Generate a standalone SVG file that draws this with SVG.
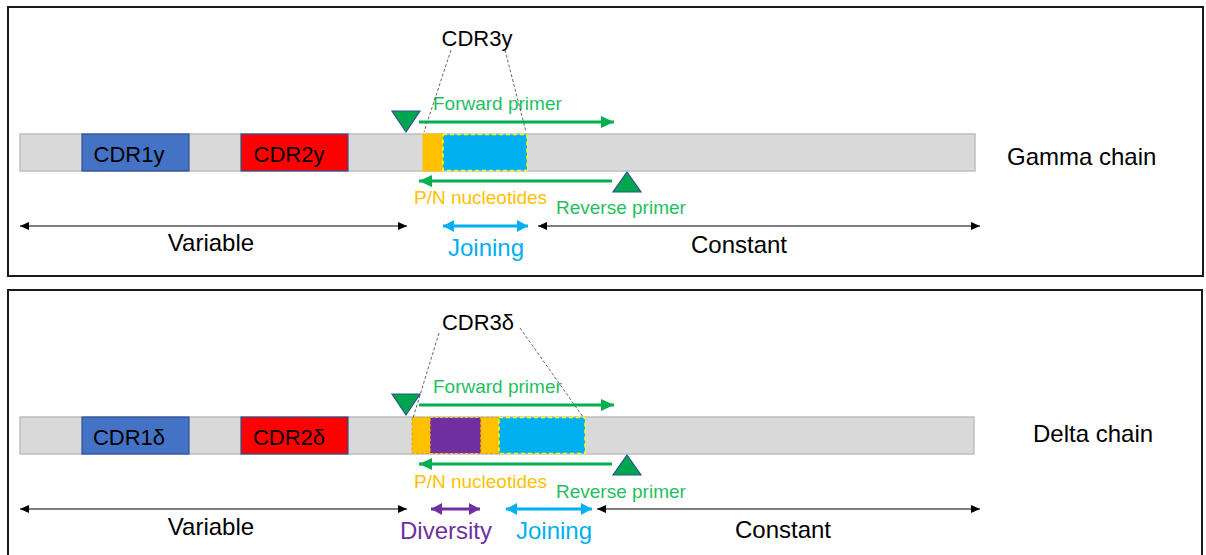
<svg xmlns="http://www.w3.org/2000/svg" width="1206" height="555" viewBox="0 0 1206 555">
<defs>
<style>
text{font-family:"Liberation Sans",Arial,sans-serif;}
.frame{fill:#fff;stroke:#1a1a1a;stroke-width:2;}
.bar{fill:#d9d9d9;stroke:#bfbfbf;stroke-width:1.5;}
.cdr1{fill:#4472c4;stroke:#2f528f;stroke-width:1.2;}
.cdr2{fill:#ff0000;stroke:#2f528f;stroke-width:1.2;}
.pn{fill:#ffc000;stroke:#ffc000;stroke-width:1;}
.pnd{fill:#ffc000;stroke:#e6a800;stroke-width:1;stroke-dasharray:3 2;}
.dv{fill:#7030a0;stroke:#ffc000;stroke-width:1.2;stroke-dasharray:3 2;}
.jn{fill:#00b0f0;stroke:#ffff00;stroke-width:1.5;stroke-dasharray:4 3;}
.tri{fill:#00a550;stroke:#2f528f;stroke-width:1.2;}
.dash{stroke:#404040;stroke-width:0.8;stroke-dasharray:3 2;fill:none;}
.blk{stroke:#000;stroke-width:1;fill:none;marker-start:url(#mk);marker-end:url(#mk);}
.cyn{stroke:#00b0f0;stroke-width:3;fill:none;marker-start:url(#mc);marker-end:url(#mc);}
.pur{stroke:#7030a0;stroke-width:3;fill:none;marker-start:url(#mp);marker-end:url(#mp);}
.grn{stroke:#00b050;stroke-width:3;fill:none;marker-end:url(#mg);}
.lbl{font-size:22px;fill:#000;}
.big{font-size:24px;fill:#000;}
.sm{font-size:19px;}
.g{fill:#1fbf5f;}
.o{fill:#ffc000;}
.c{fill:#00b0f0;}
.p{fill:#7030a0;}
</style>
<marker id="mk" markerUnits="userSpaceOnUse" markerWidth="10" markerHeight="8" refX="9" refY="4" orient="auto-start-reverse"><path d="M0,0 L9,4 L0,8 Z" fill="#000"/></marker>
<marker id="mc" markerUnits="userSpaceOnUse" markerWidth="12" markerHeight="12" refX="11" refY="6" orient="auto-start-reverse"><path d="M0,0 L11,6 L0,12 Z" fill="#00b0f0"/></marker>
<marker id="mp" markerUnits="userSpaceOnUse" markerWidth="12" markerHeight="12" refX="11" refY="6" orient="auto-start-reverse"><path d="M0,0 L11,6 L0,12 Z" fill="#7030a0"/></marker>
<marker id="mg" markerUnits="userSpaceOnUse" markerWidth="14" markerHeight="12" refX="13" refY="6" orient="auto"><path d="M0,0 L13,6 L0,12 Z" fill="#00b050"/></marker>
</defs>

<!-- Gamma panel -->
<g id="gamma-panel">
<rect class="frame" x="8" y="7" width="1195" height="269"/>
</g>
<g id="gamma-bar"><rect class="bar" x="20" y="134" width="955" height="37"/></g>
<g id="cdr1y"><rect class="cdr1" x="82" y="134" width="107" height="37"/><text class="lbl" x="129" y="162" text-anchor="middle">CDR1y</text></g>
<g id="cdr2y"><rect class="cdr2" x="241" y="134" width="107" height="37"/><text class="lbl" x="289" y="162" text-anchor="middle">CDR2y</text></g>
<g id="pn-gamma"><rect class="pn" x="423" y="134" width="20" height="37"/></g>
<g id="joining-gamma"><rect class="jn" x="443" y="134.5" width="84" height="36"/></g>
<g id="cdr3y"><text class="lbl" x="477" y="46" text-anchor="middle">CDR3y</text></g>
<g id="fwd-tri-gamma"><polygon class="tri" points="392,111 420,111 406,132"/></g>
<g id="rev-tri-gamma"><polygon class="tri" points="613,192 641,192 627,172"/></g>
<g id="gamma-labels">
<text class="sm g" x="433" y="110">Forward primer</text>
<text class="sm o" x="414" y="204">P/N nucleotides</text>
<text class="sm g" x="556" y="214">Reverse primer</text>
<text class="big" x="211" y="251" text-anchor="middle">Variable</text>
<text class="big c" x="486" y="256" text-anchor="middle">Joining</text>
<text class="big" x="739" y="253" text-anchor="middle">Constant</text>
<text class="big" x="1007" y="165">Gamma chain</text>
</g>

<!-- Delta panel -->
<g id="delta-panel">
<rect class="frame" x="8" y="290" width="1194" height="275"/>
</g>
<g id="delta-bar"><rect class="bar" x="20" y="417" width="954" height="37"/></g>
<g id="cdr1d"><rect class="cdr1" x="82" y="417" width="107" height="37"/><text class="lbl" x="129" y="445" text-anchor="middle">CDR1δ</text></g>
<g id="cdr2d"><rect class="cdr2" x="241" y="417" width="107" height="37"/><text class="lbl" x="289" y="445" text-anchor="middle">CDR2δ</text></g>
<g id="pn-delta-1"><rect class="pnd" x="412" y="417.5" width="18" height="36"/></g>
<g id="diversity-delta"><rect class="dv" x="430" y="417.5" width="51" height="36"/></g>
<g id="pn-delta-2"><rect class="pnd" x="481" y="417.5" width="18" height="36"/></g>
<g id="joining-delta"><rect class="jn" x="499" y="417.5" width="86" height="36"/></g>
<g id="cdr3d"><text class="lbl" x="478" y="330" text-anchor="middle">CDR3δ</text></g>
<g id="fwd-tri-delta"><polygon class="tri" points="392,394 420,394 406,415"/></g>
<g id="rev-tri-delta"><polygon class="tri" points="613,475 641,475 627,455"/></g>
<g id="delta-labels">
<text class="sm g" x="433" y="393">Forward primer</text>
<text class="sm o" x="414" y="488">P/N nucleotides</text>
<text class="sm g" x="556" y="498">Reverse primer</text>
<text class="big" x="211" y="535" text-anchor="middle">Variable</text>
<text class="big p" x="446" y="539" text-anchor="middle">Diversity</text>
<text class="big c" x="554" y="539" text-anchor="middle">Joining</text>
<text class="big" x="783" y="538" text-anchor="middle">Constant</text>
<text class="big" x="1033" y="442">Delta chain</text>
</g>

<!-- connectors -->
<g id="connectors">
<line class="dash" x1="451" y1="50" x2="424" y2="132"/>
<line class="dash" x1="505" y1="50" x2="526" y2="132"/>
<line class="grn" x1="419" y1="122" x2="614" y2="122"/>
<line class="grn" x1="612" y1="181" x2="419" y2="181"/>
<line class="blk" x1="20" y1="226" x2="407" y2="226"/>
<line class="cyn" x1="443" y1="226" x2="528" y2="226"/>
<line class="blk" x1="538" y1="226" x2="980" y2="226"/>

<line class="dash" x1="439" y1="333" x2="413" y2="418"/>
<line class="dash" x1="520" y1="328" x2="583" y2="417"/>
<line class="grn" x1="419" y1="405" x2="614" y2="405"/>
<line class="grn" x1="612" y1="464" x2="419" y2="464"/>
<line class="blk" x1="20" y1="509" x2="407" y2="509"/>
<line class="pur" x1="431" y1="509" x2="480" y2="509"/>
<line class="cyn" x1="506" y1="509" x2="592" y2="509"/>
<line class="blk" x1="597" y1="509" x2="980" y2="509"/>
</g>
</svg>
